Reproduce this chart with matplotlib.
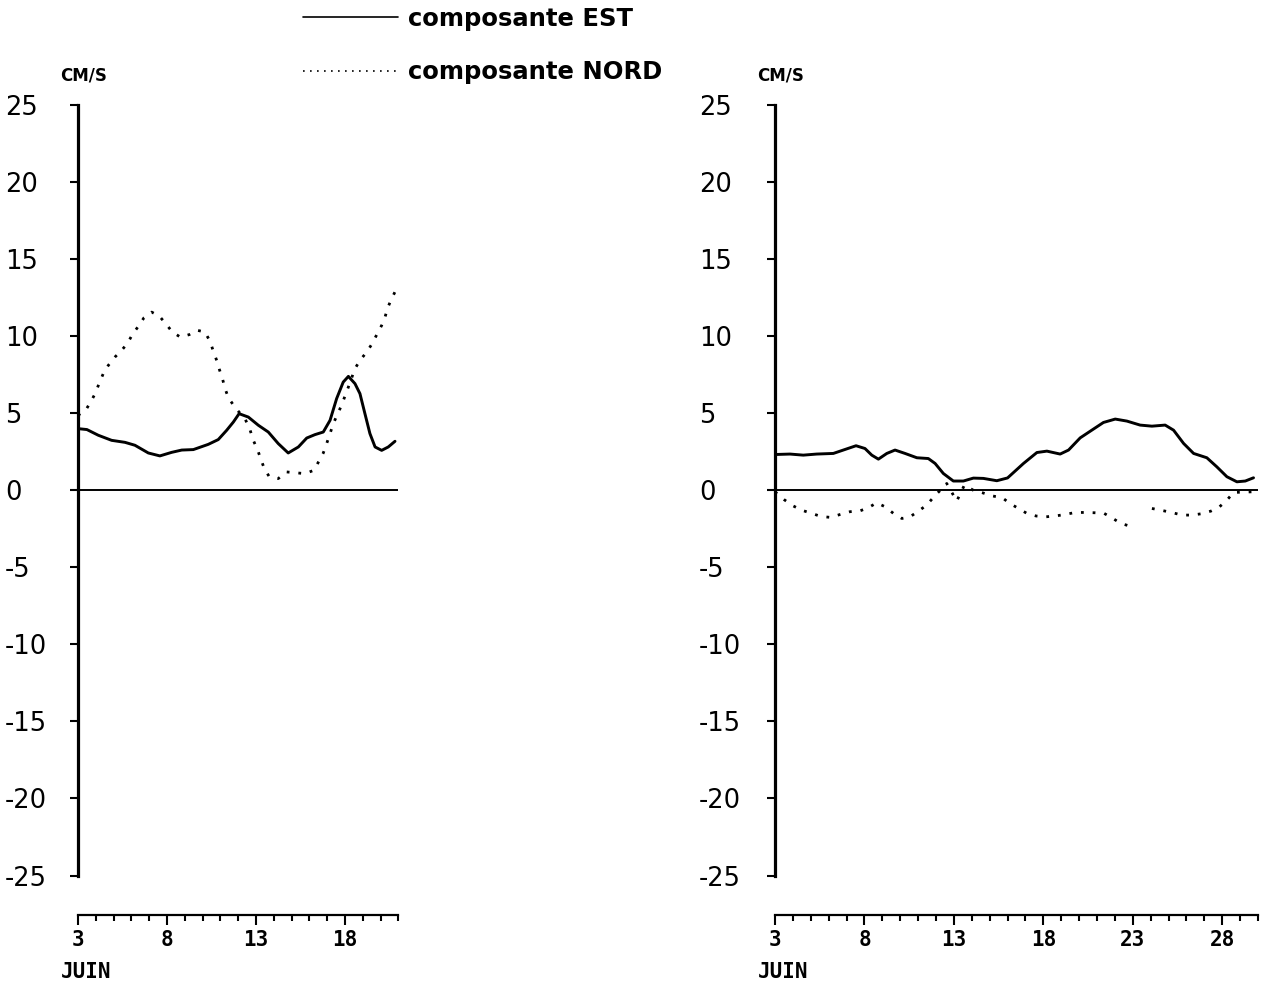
import numpy as np
import matplotlib
matplotlib.use("Agg")
import matplotlib.pyplot as plt
from matplotlib.ticker import MultipleLocator

# left panel (3 -> 21 juin)
days_l = [3.0, 3.5, 4.14, 4.89, 5.64, 6.2, 6.95, 7.6, 8.26, 8.83, 9.48, 10.32, 10.88,
          11.35, 11.73, 12.05, 12.57, 13.13, 13.69, 14.25, 14.81, 15.38, 15.85, 16.31,
          16.78, 17.16, 17.53, 17.9, 18.19, 18.56, 18.84, 19.12, 19.4, 19.69, 20.06,
          20.43, 20.81]
est_l = [4.0, 3.94, 3.57, 3.24, 3.11, 2.92, 2.42, 2.23, 2.46, 2.61, 2.64, 2.98, 3.29,
         3.89, 4.43, 4.97, 4.75, 4.22, 3.78, 3.03, 2.42, 2.81, 3.39, 3.61,
         3.78, 4.54, 5.95, 7.02, 7.39, 6.92, 6.27, 4.97, 3.68, 2.81, 2.59,
         2.81, 3.18]

nord_days_l = [3.0, 3.45, 3.73, 3.99, 4.18, 4.42, 4.7, 5.08, 5.45, 5.79, 6.05, 6.39, 6.71,
               7.14, 7.57, 7.93, 8.3, 8.75, 9.25, 9.7, 10.13, 10.42, 10.6, 10.79, 10.94,
               11.13, 11.26, 11.45, 11.78, 12.1, 12.38, 12.66, 12.85, 13.1, 13.28, 13.47,
               13.73, 14.25, 14.72, 15.75, 16.26, 16.78, 16.97, 17.16, 17.34, 17.8, 18.19,
               18.56, 18.84, 19.22, 19.5, 20.06, 20.25, 20.4, 20.62, 20.85]
nord_l = [4.86, 5.23, 5.77, 6.33, 6.92, 7.57, 8.1, 8.65, 9.08, 9.55, 10.1, 10.64, 11.2,
          11.56, 11.3, 10.81, 10.27, 9.94, 10.1, 10.38, 10.27, 9.66, 9.03, 8.43, 7.85,
          7.18, 6.6, 6.0, 5.45, 5.0, 4.65, 3.94, 3.24, 2.59, 1.99, 1.4,
          0.91, 0.76, 1.19, 1.08, 1.3, 2.42, 3.03, 3.68, 4.32, 5.5, 6.7,
          7.89, 8.43, 8.97, 9.47, 10.7, 11.24, 11.85, 12.43, 12.97]

# right panel (3 -> 30 juin)
days_r = [3.0, 3.84, 4.58, 5.33, 6.26, 6.92, 7.53, 8.03, 8.41, 8.78, 9.25, 9.71, 10.27,
          10.93, 11.57, 11.95, 12.41, 12.97, 13.53, 14.09, 14.65, 15.4, 16.0, 16.89,
          17.64, 18.2, 18.94, 19.41, 20.06, 20.8, 21.36, 22.02, 22.67, 23.41, 24.07,
          24.81, 25.28, 25.84, 26.4, 27.14, 27.7, 28.26, 28.82, 29.29, 29.75]
est_r = [2.32, 2.35, 2.28, 2.35, 2.39, 2.65, 2.89, 2.71, 2.28, 2.02, 2.39, 2.61, 2.39,
         2.11, 2.06, 1.74, 1.09, 0.6, 0.6, 0.79, 0.77, 0.62, 0.8, 1.74,
         2.45, 2.54, 2.35, 2.61, 3.4, 3.97, 4.4, 4.62, 4.49, 4.23, 4.16,
         4.23, 3.9, 3.04, 2.39, 2.11, 1.52, 0.88, 0.55, 0.6, 0.81]

nord_days_r = [3.0, 3.5, 3.99, 4.49, 5.05, 5.57, 6.11, 6.64, 7.19, 7.72, 8.22, 8.69, 9.15,
               9.62, 10.09, 10.55, 11.02, 11.48, 11.85, 12.6, 13.16, 13.59, 14.09, 14.59,
               15.12, 15.71, 16.14, 16.61, 17.08, 17.6, 18.16, 18.66, 19.22, 19.78, 20.34,
               20.9, 21.4, 21.89, 22.33, 22.82, 23.4, 24.07, 24.72, 25.24, 25.75, 26.31,
               26.86, 27.37, 27.85, 28.26, 28.64, 29.66]
nord_r = [-0.1, -0.6, -1.0, -1.29, -1.5, -1.7, -1.76, -1.57, -1.39, -1.35, -1.13, -0.81, -1.07,
          -1.5, -1.83, -1.72, -1.35, -0.96, -0.47, 0.44, -0.7, 0.34, 0.0, -0.16,
          -0.36, -0.49, -0.86, -1.18, -1.5, -1.67, -1.72, -1.67, -1.57, -1.44, -1.44,
          -1.46, -1.5, -1.83, -2.15, -2.32, np.nan, -1.18, -1.33, -1.46, -1.61, -1.61,
          -1.52, -1.35, -1.07, -0.64, -0.14, -0.1]

yticks = [25, 20, 15, 10, 5, 0, -5, -10, -15, -20, -25]
ylabels = ["25", "20", "15", "10", "5", "0", "-5", "-10", "-15", "-20", "-25"]
xlabels_l = [3, 8, 13, 18]
xlabels_r = [3, 8, 13, 18, 23, 28]

W, H = 1266, 985
fig = plt.figure(figsize=(W / 100, H / 100), dpi=100)

bottom = (H - 915) / H
height = (915 - 105) / H
ymin = -27.56


def setup(ax, xmax, xlab, label_px):
    ax.set_xlim(3, xmax)
    ax.set_ylim(ymin, 25)
    for s in ["top", "right"]:
        ax.spines[s].set_visible(False)
    ax.spines["left"].set_bounds(-25, 25)
    ax.spines["left"].set_linewidth(2.3)
    ax.spines["bottom"].set_bounds(3, xmax)
    ax.spines["bottom"].set_linewidth(1.6)
    ax.axhline(0, color="black", lw=1.4)

    ax.set_yticks(yticks)
    ax.set_yticklabels(ylabels, fontsize=18.5, family="DejaVu Sans", ha="left")
    ax.tick_params(axis="y", direction="out", length=5.5, width=1.5,
                   pad=label_px * 0.72 - 5.5)

    ax.set_xticks(xlab)
    ax.set_xticklabels([str(v) for v in xlab], fontsize=15,
                       family="DejaVu Sans Mono", fontweight="bold")
    ax.xaxis.set_minor_locator(MultipleLocator(1))
    ax.tick_params(axis="x", which="major", direction="out", length=7.5, width=1.5, pad=3)
    ax.tick_params(axis="x", which="minor", direction="out", length=4.5, width=1.5)

    ax.annotate("CM/S", xy=(0, 1), xycoords="axes fraction", xytext=(6, 30),
                textcoords="offset pixels", ha="center", va="center",
                fontsize=12, family="DejaVu Sans", fontweight="bold")
    ax.annotate("JUIN", xy=(0, 0), xycoords="axes fraction", xytext=(-17, -57),
                textcoords="offset pixels", ha="left", va="center",
                fontsize=15, family="DejaVu Sans Mono", fontweight="bold")


ax1 = fig.add_axes([78 / W, bottom, (398.4 - 78) / W, height])
ax2 = fig.add_axes([775 / W, bottom, (1258 - 775) / W, height])
ax1.patch.set_alpha(0)
ax2.patch.set_alpha(0)

l_est, = ax1.plot(days_l, est_l, color="black", lw=2.1, solid_capstyle="round",
                  solid_joinstyle="round", label="composante EST")
l_nord, = ax1.plot(nord_days_l, nord_l, color="black", lw=2.0, linestyle=(0, (1, 3.2)),
                   label="composante NORD")
ax2.plot(days_r, est_r, color="black", lw=2.1, solid_capstyle="round",
         solid_joinstyle="round")
ax2.plot(nord_days_r, nord_r, color="black", lw=2.0, linestyle=(0, (1, 3.2)))

setup(ax1, 21, xlabels_l, 73)
setup(ax2, 30, xlabels_r, 76)

leg = fig.legend(handles=[l_est, l_nord], loc="upper left",
                 bbox_to_anchor=(303 / W, 1 - 7 / H), frameon=False,
                 prop={"family": "DejaVu Sans", "weight": "bold", "size": 17.5},
                 handlelength=3.9, handletextpad=0.42, labelspacing=1.2,
                 borderpad=0, borderaxespad=0)
for h in leg.legend_handles:
    h.set_linewidth(1.2)

fig.savefig("out.png", dpi=100)
